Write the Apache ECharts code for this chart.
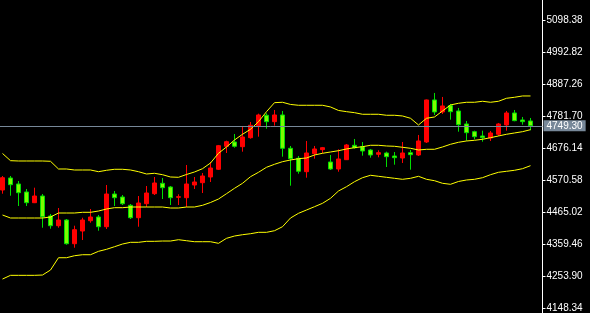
<!DOCTYPE html>
<html>
<head>
<meta charset="utf-8">
<script src="https://cdn.jsdelivr.net/npm/echarts@6/dist/echarts.min.js"></script>
<style>
html,body{margin:0;padding:0;background:#000;}
#chart{width:590px;height:313px;}
</style>
</head>
<body>
<div id="chart"></div>
<script>
// Candle values (bar index 0..66)
const opens = [4537.6,4577.2,4557.4,4531.0,4495.7,4517.8,4451.8,4419.8,4438.6,4360.4,
4402.3,4436.3,4448.5,4416.5,4524.4,4514.5,4487.1,4446.2,4492.4,4525.4,
4559.7,4547.5,4513.5,4512.2,4554.1,4561.7,4580.5,4605.9,4681.8,4696.0,
4680.5,4710.2,4749.8,4784.1,4763.0,4785.1,4675.2,4642.2,4598.0,4657.4,
4670.6,4630.0,4606.9,4637.6,4685.1,4680.5,4669.6,4655.4,4659.7,4649.8,
4643.2,4660.7,4653.1,4696.0,4834.6,4795.0,4815.8,4798.3,4755.4,4730.0,
4715.8,4709.2,4721.4,4752.1,4791.7,4768.6,4765.3];
const closes = [4578.2,4555.1,4528.7,4495.7,4517.8,4449.5,4419.8,4438.6,4360.4,4406.6,
4438.6,4448.5,4416.5,4524.4,4512.2,4492.4,4446.2,4494.7,4527.7,4560.7,
4545.2,4512.2,4515.5,4557.4,4564.0,4583.8,4610.2,4683.8,4697.0,4681.8,
4712.5,4751.1,4785.1,4763.0,4785.1,4675.2,4640.9,4599.3,4659.7,4672.9,
4677.2,4606.9,4639.9,4686.1,4677.2,4666.3,4653.1,4660.7,4647.5,4644.2,
4659.7,4654.1,4699.3,4834.6,4795.0,4814.8,4796.0,4753.1,4726.7,4713.5,
4710.2,4725.7,4755.4,4791.7,4766.3,4763.0,4749.3];
const lows = [4525.4,4518.8,4484.8,4484.8,4494.5,4413.2,4409.9,4413.2,4357.1,4347.2,
4372.6,4429.7,4403.3,4408.9,4484.8,4488.1,4441.9,4416.5,4481.5,4521.1,
4507.9,4488.1,4488.1,4481.5,4540.9,4527.7,4564.0,4603.6,4659.7,4677.2,
4664.0,4706.9,4713.5,4739.9,4749.8,4647.5,4551.8,4591.4,4578.2,4640.9,
4658.7,4603.6,4598.0,4636.6,4673.9,4650.8,4644.2,4645.5,4613.5,4621.1,
4626.7,4604.6,4649.8,4692.7,4785.1,4788.4,4769.6,4730.0,4700.3,4704.9,
4697.0,4699.3,4715.8,4733.3,4764.3,4753.1,4734.6];
const highs = [4583.8,4583.8,4567.3,4540.9,4545.2,4524.4,4458.4,4478.2,4441.9,4419.8,
4446.2,4474.9,4455.1,4554.1,4534.3,4521.1,4491.4,4517.8,4550.8,4580.5,
4577.2,4550.8,4523.4,4620.1,4580.5,4593.7,4630.0,4686.1,4700.3,4722.4,
4748.8,4762.0,4789.4,4790.7,4801.6,4798.3,4682.8,4649.8,4699.3,4682.8,
4679.5,4653.1,4671.9,4689.4,4705.9,4696.0,4672.9,4668.6,4664.0,4663.0,
4696.0,4669.6,4719.1,4836.0,4857.7,4844.5,4821.4,4808.2,4765.3,4733.3,
4733.3,4732.3,4758.7,4798.3,4801.6,4778.5,4775.2];

// Bollinger band values
const bandUpper = [4658.1,4634.3,4633.3,4633.3,4633.3,4633.3,4632.3,4606.9,4606.9,4603.6,
4603.6,4603.6,4598.0,4602.6,4605.9,4605.9,4603.6,4598.0,4590.4,4592.7,
4588.1,4580.5,4579.5,4588.8,4597.0,4607.9,4626.7,4658.7,4679.5,4702.6,
4721.4,4737.9,4763.0,4796.0,4825.7,4827.0,4819.8,4817.1,4817.1,4817.1,
4817.1,4811.5,4800.0,4796.0,4792.7,4787.4,4787.4,4787.4,4784.1,4784.1,
4781.8,4774.2,4752.1,4774.2,4778.5,4798.3,4818.1,4823.7,4827.0,4827.0,
4830.3,4827.0,4830.3,4840.2,4843.5,4847.8,4847.8];
const bandMiddle = [4455.1,4445.2,4445.2,4445.2,4445.2,4445.2,4448.5,4461.7,4461.7,4461.7,
4464.0,4464.0,4468.3,4474.9,4479.2,4479.2,4481.5,4481.5,4481.5,4481.5,
4481.5,4478.2,4478.2,4481.5,4481.5,4487.1,4496.4,4507.9,4525.4,4543.2,
4559.7,4581.5,4596.0,4612.5,4622.4,4631.0,4636.6,4640.9,4643.2,4653.1,
4658.7,4663.0,4667.3,4672.9,4677.2,4680.5,4685.1,4685.1,4682.8,4681.8,
4678.5,4675.2,4669.6,4671.9,4671.9,4679.5,4688.4,4695.0,4699.3,4701.6,
4704.9,4710.2,4715.8,4721.4,4725.7,4730.0,4736.6];
const bandLower = [4243.9,4256.1,4256.1,4256.1,4256.1,4257.1,4273.6,4314.2,4314.2,4320.8,
4324.1,4324.1,4335.3,4341.9,4350.5,4359.4,4365.0,4365.0,4368.3,4368.3,
4369.3,4369.3,4373.6,4370.3,4367.0,4367.0,4367.0,4361.7,4378.2,4385.8,
4390.1,4393.4,4398.0,4398.0,4403.3,4416.5,4445.2,4460.7,4471.6,4482.5,
4493.7,4510.2,4534.3,4548.5,4565.0,4578.2,4586.1,4582.8,4579.5,4576.2,
4572.9,4576.2,4582.8,4572.9,4568.3,4559.7,4556.4,4565.7,4570.6,4572.9,
4578.2,4588.1,4596.0,4599.3,4602.6,4607.9,4617.8];

// Price scale tick labels
const priceTicks = [4148.34,4253.90,4359.46,4465.02,4570.58,4676.14,4781.70,4887.26,4992.82,5098.38];
const currentPrice = 4749.30;
const scaleMin = 4131.85;
const scaleMax = 5164.36;

// Bars plus one empty slot (chart shift before the price scale)
const categories = opens.map((_, i) => String(i + 1)).concat(['']);

const candleData = opens.map((o, i) => [o, closes[i], lows[i], highs[i]]);

const chart = echarts.init(document.getElementById('chart'), null, {renderer: 'canvas'});
const option = {
  backgroundColor: '#000000',
  animation: false,
  grid: {left: -1.5, right: 47.5, top: 0, bottom: 0, outerBoundsMode: 'none'},
  xAxis: {
    type: 'category',
    data: categories,
    show: false,
    boundaryGap: true
  },
  yAxis: {
    type: 'value',
    position: 'right',
    min: scaleMin,
    max: scaleMax,
    scale: true,
    splitLine: {show: false},
    axisLine: {show: true, onZero: false, lineStyle: {color: '#ffffff', width: 1}},
    axisTick: {show: true, length: 3, lineStyle: {color: '#ffffff'}, customValues: priceTicks},
    axisLabel: {
      show: true,
      customValues: priceTicks,
      margin: 4,
      color: '#ffffff',
      fontFamily: 'Liberation Sans',
      fontSize: 10,
      formatter: v => Number(v).toFixed(2)
    }
  },
  series: [
    {
      type: 'candlestick',
      data: candleData,
      barWidth: 4,
      z: 2,
      itemStyle: {
        color: '#ff0000',
        borderColor: '#ff0000',
        color0: '#7cfc00',
        borderColor0: '#00dd00',
        borderWidth: 1
      },
      markLine: {
        silent: true,
        symbol: ['none', 'none'],
        animation: false,
        lineStyle: {color: '#778899', width: 1, type: 'solid'},
        label: {
          show: true,
          position: 'end',
          distance: 1,
          formatter: currentPrice.toFixed(2),
          backgroundColor: '#778899',
          color: '#ffffff',
          fontFamily: 'Liberation Sans',
          fontSize: 10,
          padding: [1, 3, 0, 3]
        },
        data: [{yAxis: currentPrice}]
      }
    },
    {type: 'line', data: bandUpper, symbol: 'none', silent: true, z: 3,
     lineStyle: {color: '#ffff00', width: 1}},
    {type: 'line', data: bandMiddle, symbol: 'none', silent: true, z: 3,
     lineStyle: {color: '#ffff00', width: 1}},
    {type: 'line', data: bandLower, symbol: 'none', silent: true, z: 3,
     lineStyle: {color: '#ffff00', width: 1}}
  ]
};
chart.setOption(option);
</script>
</body>
</html>
